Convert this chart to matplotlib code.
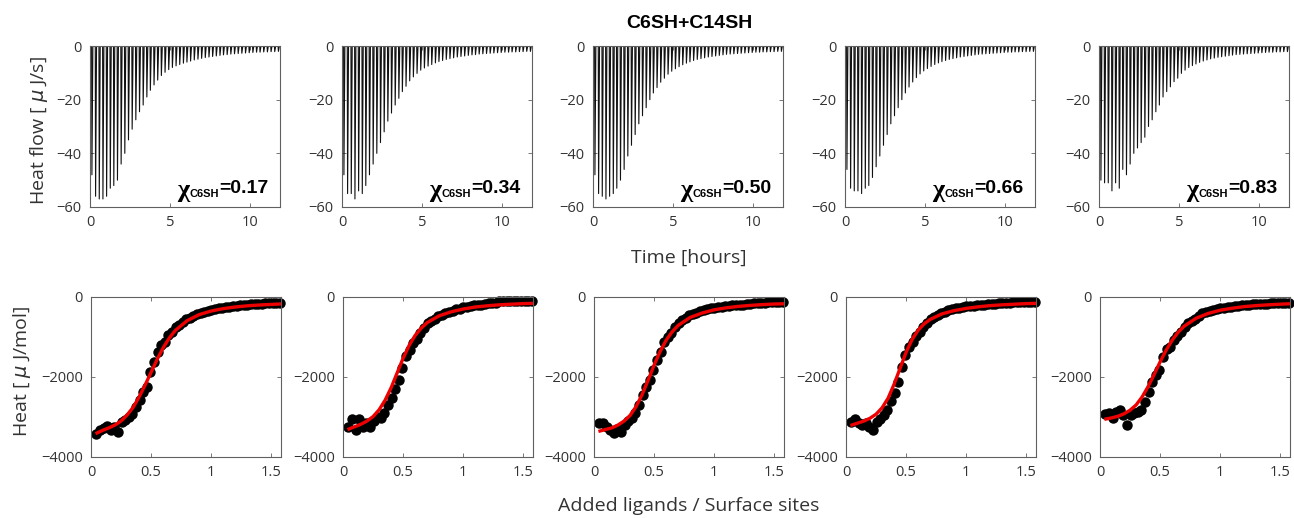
import numpy as np
import matplotlib
matplotlib.use("Agg")
import matplotlib.pyplot as plt

# injection times [hours] (same protocol for all five runs)
inj_time = [0.10, 0.33, 0.56, 0.79, 1.02, 1.25, 1.47, 1.70, 1.93, 2.16,
            2.39, 2.62, 2.85, 3.08, 3.31, 3.54, 3.76, 3.99, 4.22, 4.45,
            4.68, 4.91, 5.14, 5.37, 5.60, 5.83, 6.05, 6.28, 6.51, 6.74,
            6.97, 7.20, 7.43, 7.66, 7.89, 8.12, 8.34, 8.57, 8.80, 9.03,
            9.26, 9.49, 9.72, 9.95, 10.18, 10.41, 10.63, 10.86, 11.09, 11.32,
            11.55, 11.78]

# peak heat flow of each injection [uJ/s]
peak1 = [-48, -56, -57, -57, -56, -53, -52, -50, -44, -40,
         -35, -31, -27.5, -24.5, -22, -19, -16.5, -14.5, -12.7, -11,
         -9.8, -8.8, -8, -7.4, -6.9, -6.4, -6, -5.6, -5.2, -4.9,
         -4.6, -4.3, -4.1, -3.9, -3.7, -3.5, -3.3, -3.2, -3.0, -2.9,
         -2.8, -2.7, -2.6, -2.5, -2.4, -2.3, -2.3, -2.2, -2.2, -2.1,
         -2.1, -2.0]
peak2 = [-48, -55, -55, -57, -54, -55, -52, -48, -44, -40,
         -36, -32, -28, -25, -22, -19.5, -17, -15, -13, -11.5,
         -10.2, -9, -8.2, -7.5, -6.9, -6.3, -5.8, -5.4, -5, -4.7,
         -4.4, -4.1, -3.9, -3.7, -3.5, -3.3, -3.2, -3.0, -2.9, -2.8,
         -2.7, -2.6, -2.5, -2.4, -2.3, -2.3, -2.2, -2.2, -2.1, -2.1,
         -2.0, -2.0]
peak3 = [-48, -55, -56, -57, -56, -55, -53, -50, -46, -41,
         -37, -33, -29, -26, -23, -20, -17.5, -15.5, -13.5, -12,
         -10.5, -9.4, -8.5, -7.7, -7, -6.4, -5.9, -5.4, -5, -4.7,
         -4.4, -4.1, -3.9, -3.7, -3.5, -3.3, -3.1, -3.0, -2.9, -2.8,
         -2.7, -2.6, -2.5, -2.4, -2.3, -2.3, -2.2, -2.2, -2.1, -2.1,
         -2.0, -2.0]
peak4 = [-46, -53, -54, -54, -55, -53, -52, -49, -45, -41,
         -37, -33, -29, -26, -23, -20, -17.5, -15.3, -13.4, -11.8,
         -10.4, -9.3, -8.4, -7.6, -6.9, -6.3, -5.8, -5.4, -5, -4.7,
         -4.4, -4.1, -3.9, -3.7, -3.5, -3.3, -3.1, -3.0, -2.9, -2.8,
         -2.7, -2.6, -2.5, -2.4, -2.3, -2.3, -2.2, -2.2, -2.1, -2.1,
         -2.0, -2.0]
peak5 = [-50, -51, -51, -54, -51, -53, -46, -48, -44, -40,
         -38, -36, -34, -30, -27.5, -24.5, -22, -19, -17, -15.2,
         -13.3, -12, -10.2, -9, -8, -7.3, -6.7, -6.1, -5.6, -5.2,
         -4.8, -4.5, -4.2, -4, -3.8, -3.6, -3.4, -3.2, -3.1, -3.0,
         -2.9, -2.8, -2.7, -2.6, -2.5, -2.4, -2.3, -2.3, -2.2, -2.2,
         -2.1, -2.1]

# molar ratio (added ligands / surface sites) after each injection
ratio = [0.045, 0.075, 0.105, 0.135, 0.165, 0.195, 0.224, 0.254, 0.284, 0.314,
         0.344, 0.374, 0.404, 0.434, 0.464, 0.494, 0.523, 0.553, 0.583, 0.613,
         0.643, 0.673, 0.703, 0.733, 0.763, 0.793, 0.822, 0.852, 0.882, 0.912,
         0.942, 0.972, 1.002, 1.032, 1.062, 1.092, 1.121, 1.151, 1.181, 1.211,
         1.241, 1.271, 1.301, 1.331, 1.361, 1.391, 1.420, 1.450, 1.480, 1.510,
         1.540, 1.570]

# integrated heats [uJ/mol]
heat1 = [-3420, -3330, -3280, -3230, -3330, -3260, -3370, -3120, -3080, -3000,
         -2920, -2740, -2580, -2370, -2250, -1870, -1620, -1380, -1200, -1130,
         -960, -880, -760, -700, -620, -560, -520, -470, -430, -400,
         -370, -340, -320, -300, -280, -265, -250, -240, -225, -215,
         -205, -200, -190, -185, -175, -170, -165, -160, -155, -150,
         -148, -145]
heat2 = [-3240, -3060, -3320, -3060, -3240, -3150, -3250, -3100, -3000, -3020,
         -2900, -2700, -2530, -2300, -2080, -1780, -1480, -1330, -1150, -1050,
         -900, -780, -650, -600, -540, -480, -440, -410, -370, -340,
         -310, -290, -250, -240, -230, -210, -200, -190, -170, -160,
         -150, -140, -110, -100, -90, -90, -100, -110, -95, -90,
         -95, -110]
heat3 = [-3160, -3150, -3250, -3325, -3400, -3300, -3380, -3200, -3100, -3025,
         -2900, -2700, -2450, -2242, -2075, -1825, -1575, -1367, -1117, -1000,
         -900, -760, -658, -580, -520, -460, -420, -390, -360, -330,
         -300, -283, -270, -255, -240, -230, -220, -210, -200, -195,
         -190, -180, -170, -160, -150, -145, -142, -135, -125, -120,
         -117, -115]
heat4 = [-3117, -3042, -3150, -3200, -3150, -3250, -3325, -3117, -3050, -2950,
         -2825, -2600, -2408, -2125, -1750, -1458, -1250, -1117, -980, -867,
         -760, -650, -560, -492, -450, -410, -370, -330, -300, -283,
         -265, -250, -235, -225, -215, -205, -200, -195, -185, -175,
         -170, -160, -155, -150, -140, -135, -130, -125, -120, -118,
         -117, -115]
heat5 = [-2925, -2900, -3033, -2875, -2825, -2950, -3200, -2950, -2900, -2870,
         -2830, -2617, -2367, -2117, -1950, -1825, -1492, -1300, -1242, -1075,
         -980, -867, -760, -658, -600, -540, -470, -408, -380, -350,
         -320, -300, -283, -270, -255, -240, -230, -220, -210, -200,
         -195, -185, -180, -175, -170, -165, -160, -158, -155, -152,
         -150, -148]

# fitted binding curves
fit_x = [0.05, 0.1, 0.15, 0.2, 0.25, 0.3, 0.35, 0.4, 0.45, 0.5, 0.55, 0.6,
         0.65, 0.7, 0.8, 0.9, 1.0, 1.1, 1.2, 1.3, 1.4, 1.5, 1.57]
fit1 = [-3400, -3330, -3270, -3200, -3100, -2950, -2760, -2500, -2200, -1880, -1560, -1270,
        -1030, -840, -590, -440, -350, -290, -250, -220, -200, -185, -175]
fit2 = [-3300, -3240, -3180, -3100, -2990, -2820, -2580, -2270, -1900, -1530, -1210, -960,
        -780, -640, -470, -370, -300, -250, -220, -195, -180, -165, -160]
fit3 = [-3350, -3310, -3270, -3200, -3100, -2960, -2740, -2440, -2080, -1700, -1360, -1080,
        -870, -710, -510, -400, -320, -270, -235, -210, -190, -175, -170]
fit4 = [-3200, -3150, -3100, -3030, -2930, -2770, -2530, -2180, -1780, -1380, -1060, -830,
        -670, -560, -420, -340, -285, -245, -215, -195, -180, -165, -160]
fit5 = [-3050, -3020, -2980, -2920, -2830, -2700, -2500, -2240, -1940, -1620, -1330, -1080,
        -880, -730, -530, -410, -330, -280, -240, -215, -195, -180, -170]

chi = ['0.17', '0.34', '0.50', '0.66', '0.83']
peaks = [peak1, peak2, peak3, peak4, peak5]
heats = [heat1, heat2, heat3, heat4, heat5]
fits = [fit1, fit2, fit3, fit4, fit5]

W, H = 1294, 518
fig = plt.figure(figsize=(W / 100, H / 100), dpi=100)
fig.patch.set_facecolor('white')

tick_font = 'Open Sans'
spine_col = '#606060'
lefts = [90, 342, 593, 845, 1099]
ax_w = 190


def style(ax):
    for s in ax.spines.values():
        s.set_color(spine_col)
        s.set_linewidth(0.8)
    ax.tick_params(direction='in', top=True, right=True, length=3, width=0.6,
                   color=spine_col, labelcolor='#333333', labelsize=10.5, pad=6)
    for lab in ax.get_xticklabels() + ax.get_yticklabels():
        lab.set_fontfamily(tick_font)


for i in range(5):
    # thermogram
    ax = fig.add_axes([lefts[i] / W, 1 - 207 / H, ax_w / W, 161 / H])
    tt = [0.0]
    yy = [0.0]
    for t, d in zip(inj_time, peaks[i]):
        tt += [t, t + 0.02, t + 0.08]
        yy += [0.0, d, 0.0]
    tt.append(11.9)
    yy.append(0.0)
    ax.plot(tt, yy, color='#111111', lw=0.8)
    ax.set_xlim(0, 11.9)
    ax.set_ylim(-60, 0)
    ax.set_xticks([0, 5, 10])
    ax.set_yticks([0, -20, -40, -60])
    style(ax)

    # chi label, built right to left
    t_eq = ax.text(0.94, 0.085, '=' + chi[i], transform=ax.transAxes,
                   ha='right', va='baseline', fontsize=14, fontweight='bold',
                   family='Liberation Sans', color='black')
    t_sub = ax.annotate('C6SH', xy=(0, 0), xycoords=t_eq, xytext=(0, -1.5),
                        textcoords='offset points', ha='right', va='bottom',
                        fontsize=8, fontweight='bold', family='Liberation Sans')
    ax.annotate('χ', xy=(0, 0), xycoords=t_sub, xytext=(-0.5, -2),
                textcoords='offset points', ha='right', va='bottom',
                fontsize=19, fontweight='bold', family='Liberation Serif')

    # binding isotherm
    bx = fig.add_axes([(lefts[i] + 1) / W, 1 - 457 / H, ax_w / W, 160 / H])
    bx.plot(ratio, heats[i], 'o', color='black', ms=6.5, zorder=2, clip_on=False)
    bx.plot(fit_x, fits[i], '-', color='#ee0000', lw=2.4, zorder=3)
    bx.set_xlim(0, 1.58)
    bx.set_ylim(-4000, 0)
    bx.set_xticks([0, 0.5, 1, 1.5])
    bx.set_xticklabels(['0', '0.5', '1', '1.5'])
    bx.set_yticks([0, -2000, -4000])
    style(bx)

fig.text(689 / W, 1 - 24 / H, 'C6SH+C14SH', ha='center', va='center',
         fontsize=14, fontweight='bold', family='Liberation Sans')
fig.text(39 / W, 1 - 131 / H, r'Heat flow [ $\mu$ J/s]', rotation=90,
         ha='center', va='center', fontsize=14, family=tick_font, color='#333333')
fig.text(22 / W, 1 - 372 / H, r'Heat [ $\mu$ J/mol]', rotation=90,
         ha='center', va='center', fontsize=14, family=tick_font, color='#333333')
fig.text(689 / W, 1 - 258 / H, 'Time [hours]', ha='center', va='center',
         fontsize=14, family=tick_font, color='#333333')
fig.text(689 / W, 1 - 506 / H, 'Added ligands / Surface sites', ha='center',
         va='center', fontsize=14, family=tick_font, color='#333333')

fig.savefig('out.png', dpi=100)
